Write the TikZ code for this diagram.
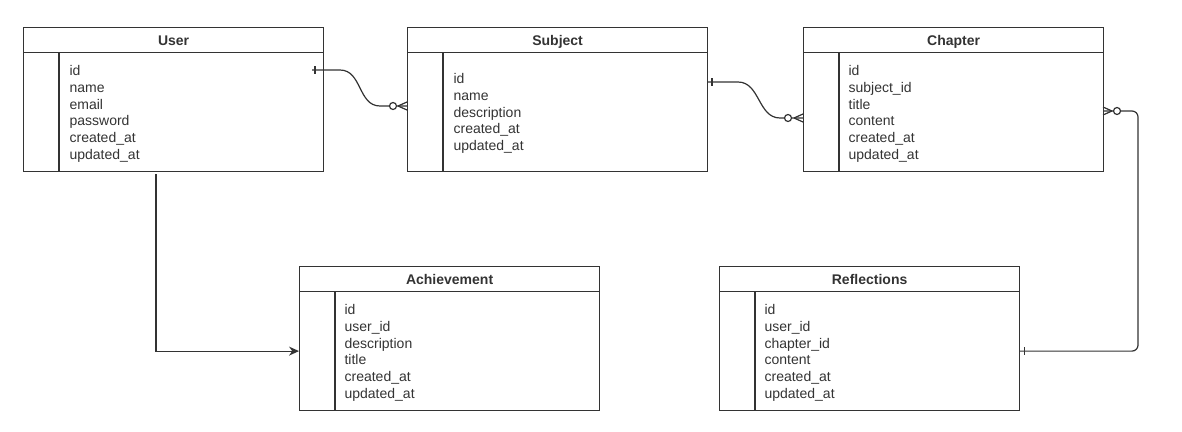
\documentclass[tikz,border=0pt]{standalone}
\usepackage{fontspec}
\setmainfont{Liberation Sans}
\usetikzlibrary{arrows.meta}
\definecolor{erdark}{HTML}{333333}

\begin{document}
\begin{tikzpicture}[x=1pt, y=-1pt, >=Stealth, line width=1.2pt, color=erdark,
	tablehead/.style={draw, minimum width=300pt, minimum height=25pt, anchor=north west, inner sep=0pt, text height=10pt, text depth=0pt, font=\bfseries\fontsize{14}{16}\selectfont},
	tablebody/.style={draw, minimum width=300pt, minimum height=119pt, anchor=north west, inner sep=0pt},
	fieldlist/.style={anchor=north west, align=left, inner sep=0pt, font=\fontsize{14}{16.7}\selectfont},
	ringmark/.style={fill=white, line width=1.2pt}]
				\useasboundingbox (0,0) rectangle (1182,431);
				
				% 1. 上排三张表 (User, Subject, Chapter)
				\node[tablehead] (user-head) at (23,27) {User};
				\node[tablebody] (user-body) at (23,52) {};
				\draw ([xshift=36pt]user-body.north west) -- ([xshift=36pt]user-body.south west);
				\node[fieldlist] (user-fields) at (69,65) {id\\name\\email\\password\\created\_at\\updated\_at};
				
				\node[tablehead] (subj-head) at (407,27) {Subject};
				\node[tablebody] (subj-body) at (407,52) {};
				\draw ([xshift=36pt]subj-body.north west) -- ([xshift=36pt]subj-body.south west);
				\node[fieldlist] (subj-fields) at (453,73) {id\\name\\description\\created\_at\\updated\_at};
				
				\node[tablehead] (chap-head) at (803,27) {Chapter};
				\node[tablebody] (chap-body) at (803,52) {};
				\draw ([xshift=36pt]chap-body.north west) -- ([xshift=36pt]chap-body.south west);
				\node[fieldlist] (chap-fields) at (848,65) {id\\subject\_id\\title\\content\\created\_at\\updated\_at};
				
				% 2. 下排两张表 (Achievement, Reflections)
				\node[tablehead] (achv-head) at (299,266) {Achievement};
				\node[tablebody] (achv-body) at (299,291) {};
				\draw ([xshift=36pt]achv-body.north west) -- ([xshift=36pt]achv-body.south west);
				\node[fieldlist] (achv-fields) at (344,304) {id\\user\_id\\description\\title\\created\_at\\updated\_at};
				
				\node[tablehead] (refl-head) at (719,266) {Reflections};
				\node[tablebody] (refl-body) at (719,291) {};
				\draw ([xshift=36pt]refl-body.north west) -- ([xshift=36pt]refl-body.south west);
				\node[fieldlist] (refl-fields) at (764,304) {id\\user\_id\\chapter\_id\\content\\created\_at\\updated\_at};
				
				% 3. 连线端点
				\coordinate (user-src) at (312,70);
				\coordinate (subj-in) at (407,106);
				\coordinate (subj-src) at (707,82);
				\coordinate (chap-in) at (803,118);
				\coordinate (chap-src) at (1103,111);
				\coordinate (user-down) at (156,174);
				
				% 4. User -> Subject (一对零或多)
				\draw (user-src) -- (340,70) .. controls (362,70) and (358,106) .. (380,106) -- (subj-in);
				\draw (315,66) -- (315,74);
				\draw (398,106) -- (407,102) (398,106) -- (407,110);
				\filldraw[ringmark] (393,106) circle (3.5pt);
				
				% 5. Subject -> Chapter
				\draw (subj-src) -- (738,82) .. controls (760,82) and (758,118) .. (780,118) -- (chap-in);
				\draw (712,78) -- (712,86);
				\draw (794,118) -- (803,114) (794,118) -- (803,122);
				\filldraw[ringmark] (788,118) circle (3.5pt);
				
				% 6. Chapter -> Reflections (圆角折线)
				\draw[rounded corners=6pt] (chap-src) -- (1138,111) |- (refl-body.east);
				\draw (1112,111) -- (1103,107) (1112,111) -- (1103,115);
				\filldraw[ringmark] (1117,111) circle (3.5pt);
				\draw ([xshift=4pt]refl-body.east) ++(0,-4) -- ++(0,8);
				
				% 7. User -> Achievement
				\draw[-{Stealth[length=10pt, width=9pt]}] (user-down) |- (achv-body.west);
			\end{tikzpicture}
\end{document}
